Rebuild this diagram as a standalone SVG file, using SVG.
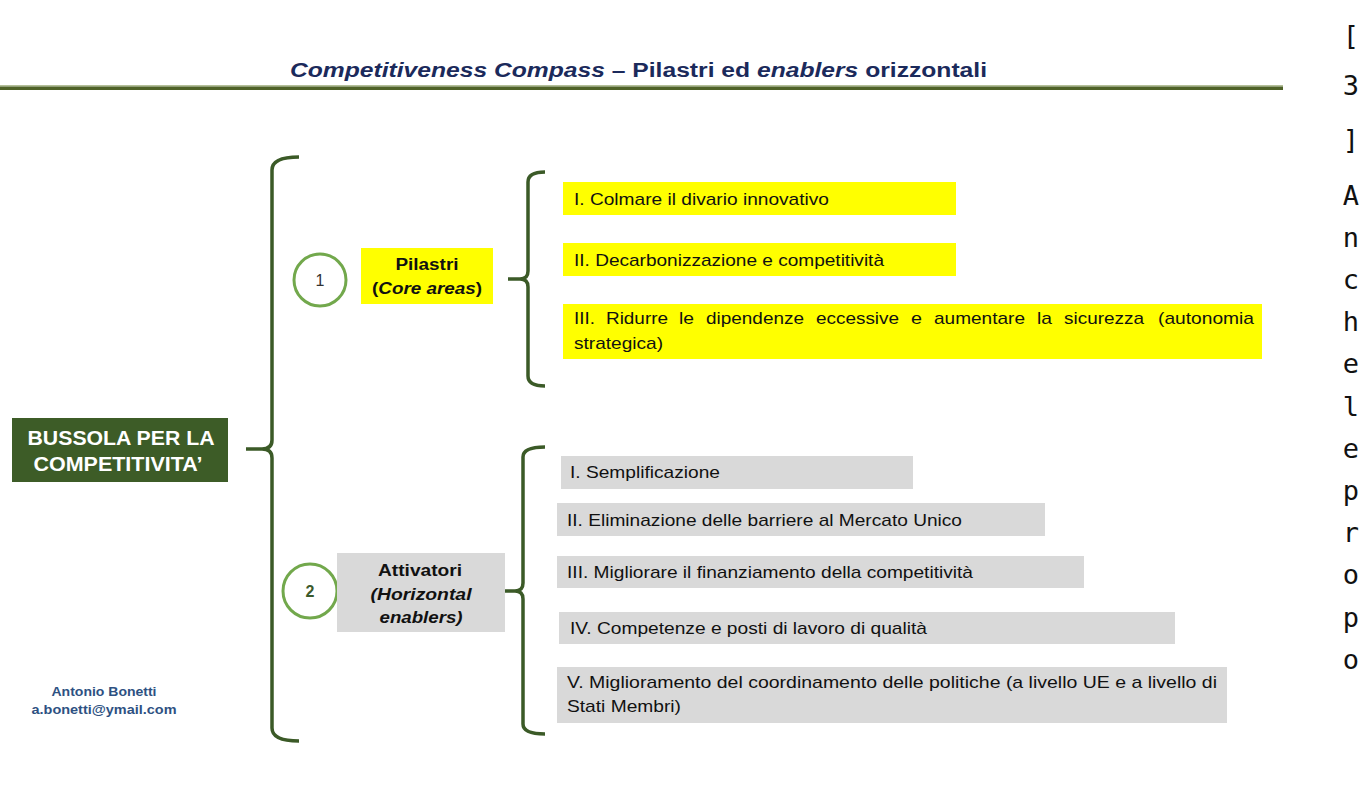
<svg xmlns="http://www.w3.org/2000/svg" width="1367" height="810" viewBox="0 0 1367 810">
<style>
  text { font-family: "Liberation Sans", Arial, sans-serif; }
  .title { font-size: 20px; font-weight: bold; fill: #1b2a5b; }
  .main { font-size: 20px; font-weight: bold; fill: #ffffff; }
  .hdr { font-size: 16px; font-weight: bold; fill: #111111; }
  .item { font-size: 17px; fill: #111111; }
  .num { font-size: 16px; }
  .author { font-size: 13px; font-weight: bold; fill: #2e5182; }
  .side { font-family: "DejaVu Sans Mono", monospace; font-size: 27px; fill: #111111; }
  .brace { fill: none; stroke: #3b5a27; stroke-width: 3.5; stroke-linecap: butt; stroke-linejoin: round; }
  .circle { fill: #ffffff; stroke: #72a84c; stroke-width: 3; }
  .yellow { fill: #ffff00; }
  .gray { fill: #d9d9d9; }
</style>
<rect x="0" y="0" width="1367" height="810" fill="#ffffff"/>

<g id="title">
  <text class="title" x="290" y="77" textLength="697" lengthAdjust="spacingAndGlyphs"><tspan font-style="italic">Competitiveness Compass</tspan> – Pilastri ed <tspan font-style="italic">enablers</tspan> orizzontali</text>
  <rect x="0" y="85" width="1283" height="1.5" fill="#b3bf98"/>
  <rect x="0" y="86.5" width="1283" height="3.5" fill="#4f6228"/>
</g>

<g id="connectors">
  <path class="brace" d="M299,157 Q272,157 272,170 L272,440 Q272,449 262,449 L246,449 M262,449 Q272,449 272,458 L272,728 Q272,741 299,741"/>
  <path class="brace" d="M545,172 Q528,172 528,182 L528,271 Q528,279 520,279 L508,279 M520,279 Q528,279 528,287 L528,376 Q528,386 545,386"/>
  <path class="brace" d="M545,447 Q523,447 523,457 L523,583 Q523,591 515,591 L505,591 M515,591 Q523,591 523,599 L523,724 Q523,734 545,734"/>
</g>

<g id="bussola">
  <rect x="12" y="418" width="216" height="64" fill="#3d5c27"/>
  <text class="main" x="121" y="445" text-anchor="middle" textLength="187" lengthAdjust="spacingAndGlyphs">BUSSOLA PER LA</text>
  <text class="main" x="118" y="471" text-anchor="middle" textLength="169" lengthAdjust="spacingAndGlyphs">COMPETITIVITA’</text>
</g>

<g id="circle1">
  <circle class="circle" cx="320" cy="280" r="26"/>
  <text class="num" x="320" y="286" text-anchor="middle" fill="#333333">1</text>
</g>

<g id="pilastri">
  <rect class="yellow" x="361" y="248" width="132" height="56"/>
  <text class="hdr" x="427" y="270" text-anchor="middle" textLength="63" lengthAdjust="spacingAndGlyphs">Pilastri</text>
  <text class="hdr" x="427" y="294" text-anchor="middle" textLength="110" lengthAdjust="spacingAndGlyphs">(<tspan font-style="italic">Core areas</tspan>)</text>
</g>

<g id="pil1">
  <rect class="yellow" x="563" y="182" width="393" height="33"/>
  <text class="item" x="574" y="205" textLength="255" lengthAdjust="spacingAndGlyphs">I. Colmare il divario innovativo</text>
</g>
<g id="pil2">
  <rect class="yellow" x="563" y="243" width="393" height="33"/>
  <text class="item" x="574" y="266" textLength="310" lengthAdjust="spacingAndGlyphs">II. Decarbonizzazione e competitività</text>
</g>
<g id="pil3">
  <rect class="yellow" x="563" y="304" width="699" height="55"/>
  <text class="item" y="324"><tspan x="574" textLength="21" lengthAdjust="spacingAndGlyphs">III.</tspan><tspan x="606" textLength="62" lengthAdjust="spacingAndGlyphs">Ridurre</tspan><tspan x="679" textLength="15" lengthAdjust="spacingAndGlyphs">le</tspan><tspan x="706" textLength="98" lengthAdjust="spacingAndGlyphs">dipendenze</tspan><tspan x="816" textLength="83" lengthAdjust="spacingAndGlyphs">eccessive</tspan><tspan x="911" textLength="11" lengthAdjust="spacingAndGlyphs">e</tspan><tspan x="934" textLength="91" lengthAdjust="spacingAndGlyphs">aumentare</tspan><tspan x="1037" textLength="15" lengthAdjust="spacingAndGlyphs">la</tspan><tspan x="1064" textLength="80" lengthAdjust="spacingAndGlyphs">sicurezza</tspan><tspan x="1158" textLength="96" lengthAdjust="spacingAndGlyphs">(autonomia</tspan></text>
  <text class="item" x="574" y="349" textLength="89" lengthAdjust="spacingAndGlyphs">strategica)</text>
</g>

<g id="circle2">
  <circle class="circle" cx="310" cy="591" r="27"/>
  <text class="num" x="310" y="597" text-anchor="middle" font-weight="bold" fill="#3b5a2b">2</text>
</g>

<g id="attivatori">
  <rect class="gray" x="337" y="553" width="168" height="79"/>
  <text class="hdr" x="420" y="576" text-anchor="middle" textLength="84" lengthAdjust="spacingAndGlyphs">Attivatori</text>
  <text class="hdr" x="421" y="600" text-anchor="middle" font-style="italic" textLength="101" lengthAdjust="spacingAndGlyphs">(Horizontal</text>
  <text class="hdr" x="421" y="623" text-anchor="middle" font-style="italic" textLength="83" lengthAdjust="spacingAndGlyphs">enablers)</text>
</g>

<g id="att1">
  <rect class="gray" x="561" y="456" width="352" height="33"/>
  <text class="item" x="570" y="478" textLength="150" lengthAdjust="spacingAndGlyphs">I. Semplificazione</text>
</g>
<g id="att2">
  <rect class="gray" x="557" y="503" width="488" height="33"/>
  <text class="item" x="567" y="526" textLength="395" lengthAdjust="spacingAndGlyphs">II. Eliminazione delle barriere al Mercato Unico</text>
</g>
<g id="att3">
  <rect class="gray" x="557" y="556" width="527" height="32"/>
  <text class="item" x="567" y="578" textLength="406" lengthAdjust="spacingAndGlyphs">III. Migliorare il finanziamento della competitività</text>
</g>
<g id="att4">
  <rect class="gray" x="559" y="612" width="616" height="32"/>
  <text class="item" x="570" y="634" textLength="357" lengthAdjust="spacingAndGlyphs">IV. Competenze e posti di lavoro di qualità</text>
</g>
<g id="att5">
  <rect class="gray" x="557" y="667" width="670" height="56"/>
  <text class="item" x="567" y="688" textLength="650" lengthAdjust="spacingAndGlyphs">V. Miglioramento del coordinamento delle politiche (a livello UE e a livello di</text>
  <text class="item" x="567" y="712" textLength="114" lengthAdjust="spacingAndGlyphs">Stati Membri)</text>
</g>

<g id="author">
  <text class="author" x="104" y="696" text-anchor="middle" textLength="105" lengthAdjust="spacingAndGlyphs">Antonio Bonetti</text>
  <text class="author" x="104" y="714" text-anchor="middle" textLength="145" lengthAdjust="spacingAndGlyphs">a.bonetti@ymail.com</text>
</g>

<g id="side-text">
  <text class="side" text-anchor="middle"><tspan x="1351" y="45">[</tspan><tspan x="1351" y="94.5">3</tspan><tspan x="1351" y="149">]</tspan><tspan x="1351" y="204.5">A</tspan><tspan x="1351" y="246.7">n</tspan><tspan x="1351" y="288.9">c</tspan><tspan x="1351" y="331.1">h</tspan><tspan x="1351" y="373.3">e</tspan><tspan x="1351" y="415.5">l</tspan><tspan x="1351" y="457.7">e</tspan><tspan x="1351" y="499.9">p</tspan><tspan x="1351" y="542.1">r</tspan><tspan x="1351" y="584.3">o</tspan><tspan x="1351" y="626.5">p</tspan><tspan x="1351" y="668.7">o</tspan></text>
</g>
</svg>
